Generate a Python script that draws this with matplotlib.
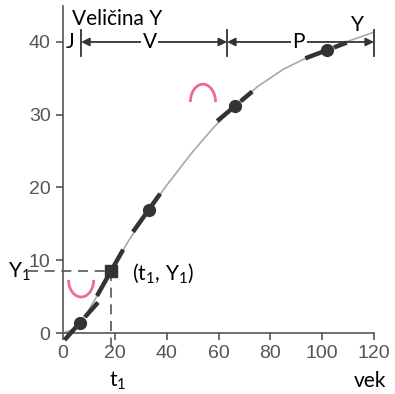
import matplotlib
matplotlib.use("Agg")
import matplotlib.pyplot as plt
from matplotlib.patches import Arc

plt.rcParams['mathtext.fontset'] = 'custom'
plt.rcParams['mathtext.rm'] = 'Lato'
plt.rcParams['mathtext.it'] = 'Lato:italic'
plt.rcParams['mathtext.default'] = 'regular'

# curve
curve_t = [0, 3, 6.5, 10, 14, 18.5, 25, 33, 40, 50, 58, 66.4, 75, 85, 95, 102, 110, 120]
curve_y = [0, 0.35, 1.4, 3.2, 5.6, 8.5, 12.5, 16.9, 20.3, 24.9, 28.2, 31.2, 33.85, 36.25, 38.0, 39.0, 40.1, 41.35]

# marked points
pt_t = [6.5, 33, 66.4, 102]
pt_y = [1.4, 16.9, 31.2, 38.9]
sq_t = [18.5]
sq_y = [8.5]

# tangent segments (center, slope, x-range)
tan_t = [6.5, 18.5, 33, 66.4, 102]
tan_y = [1.4, 8.5, 16.9, 31.2, 38.9]
tan_slope = [0.40, 0.63, 0.50, 0.30, 0.135]
tan_x0 = [0.6, 13.1, 27.0, 59.5, 93.5]
tan_x1 = [13.5, 23.2, 37.5, 73.0, 109.5]

# stage dimension marks
stage_bounds = [7, 63.3, 120]
stage_labels = ['V', 'P']
stage_label_x = [33.5, 91.0]
stage_level = 40

xticks = [0, 20, 40, 60, 80, 100, 120]
yticks = [0, 10, 20, 30, 40]

TXT = ['Lato', 'DejaVu Sans']
FS = 15
dark = '#333333'
gray = '#555555'
pink = '#ee6a97'

fig = plt.figure(figsize=(3.95, 3.94), dpi=100)
ax = fig.add_axes([63/395, 61/394, 311/395, 327.4/394])
ax.set_xlim(0, 120)
ax.set_ylim(0, 45)
for s in ['top', 'right']:
    ax.spines[s].set_visible(False)
for s in ['left', 'bottom']:
    ax.spines[s].set_color(gray)
    ax.spines[s].set_linewidth(1.2)
ax.spines['left'].set_bounds(0, 45)
ax.set_xticks(xticks)
ax.set_yticks(yticks)
ax.tick_params(direction='out', length=5, width=1.2, color=gray, labelcolor=gray,
               labelsize=14, pad=4)
for lab in ax.get_xticklabels() + ax.get_yticklabels():
    lab.set_family('Liberation Sans')

# curve
ax.plot(curve_t, curve_y, color='#a8a8a8', lw=1.2, zorder=2, clip_on=False)

# tangents
for t, y, k, a, b in zip(tan_t, tan_y, tan_slope, tan_x0, tan_x1):
    ax.plot([a, b], [y + k * (a - t), y + k * (b - t)], color=dark, lw=3.2,
            dashes=(6, 0.9), solid_capstyle='butt', dash_capstyle='butt',
            zorder=3, clip_on=False)

ax.plot(pt_t, pt_y, 'o', color=dark, ms=8.5, zorder=4, clip_on=False)
ax.plot(sq_t, sq_y, 's', color=dark, ms=8.5, zorder=4, clip_on=False)

# guide dashed lines
ax.plot([-13.5, sq_t[0]], [sq_y[0], sq_y[0]], color='#555555', lw=1.2,
        dashes=(6, 4), zorder=1, clip_on=False)
ax.plot([sq_t[0], sq_t[0]], [sq_y[0], -2.0], color='#555555', lw=1.2,
        dashes=(6, 4), zorder=1, clip_on=False)

# curvature arcs
ax.add_patch(Arc((7.0, 7.3), 9.7, 4.7, theta1=180, theta2=360, color=pink, lw=2, zorder=5))
ax.add_patch(Arc((54.0, 31.75), 9.7, 4.9, theta1=0, theta2=180, color=pink, lw=2, zorder=5))

# stage dimension lines
for x in stage_bounds:
    ax.plot([x, x], [38.1, 41.6], color=dark, lw=1.3, clip_on=False, zorder=3)
for i, lab in enumerate(stage_labels):
    a, b = stage_bounds[i], stage_bounds[i + 1]
    ax.annotate('', xy=(a, stage_level), xytext=(b, stage_level),
                arrowprops=dict(arrowstyle='<|-|>', color=dark, lw=1.3,
                                shrinkA=0, shrinkB=0, mutation_scale=12),
                annotation_clip=False, zorder=3)
    ax.text(stage_label_x[i], stage_level, lab, ha='center', va='center', fontsize=FS,
            family=TXT, color='black', bbox=dict(fc='white', ec='none', pad=1), zorder=4)
ax.text(2.8, stage_level, 'J', ha='center', va='center', fontsize=FS, family=TXT,
        color='black', bbox=dict(fc='white', ec='none', pad=0.5), zorder=4)
ax.text(113.5, 42.4, 'Y', ha='center', va='center', fontsize=FS, family=TXT,
        color='black', zorder=4)

# labels
ax.text(3.5, 43.1, 'Veličina Y', ha='left', va='center', fontsize=FS, family=TXT, color='black')
ax.text(-17, 8.4, r'$Y_1$', ha='center', va='center', fontsize=FS, family=TXT, color='black')
ax.text(26.5, 8.2, r'$(t_1,\, Y_1)$', ha='left', va='center', fontsize=FS, family=TXT, color='black')
ax.text(21, -6.6, r'$t_1$', ha='center', va='center', fontsize=FS, family=TXT, color='black')
ax.text(118.5, -6.6, 'vek', ha='center', va='center', fontsize=FS, family=TXT, color='black')

fig.savefig('out.png', dpi=100, facecolor='white')
